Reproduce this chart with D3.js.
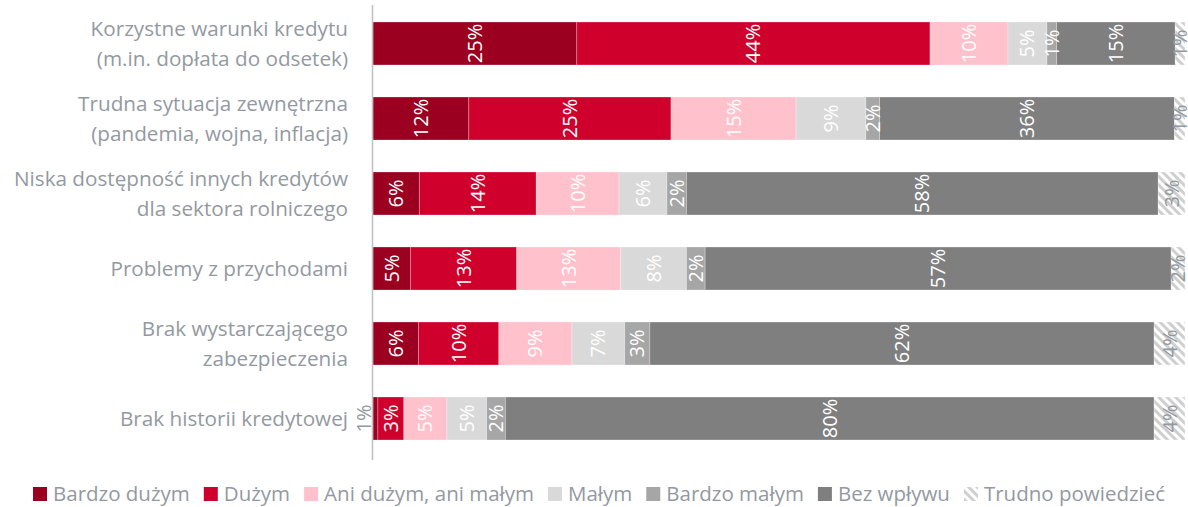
<!DOCTYPE html>
<html>
<head>
<meta charset="utf-8">
<script src="https://cdn.jsdelivr.net/npm/d3@7"></script>
<style>
  body { margin: 0; background: #fff; }
  svg { display: block; font-family: "Open Sans", sans-serif; }
</style>
</head>
<body>
<svg id="chart" width="1188" height="507"></svg>
<script>
const categories = [
  ['Korzystne warunki kredytu', '(m.in. dopłata do odsetek)'],
  ['Trudna sytuacja zewnętrzna', '(pandemia, wojna, inflacja)'],
  ['Niska dostępność innych kredytów', 'dla sektora rolniczego'],
  ['Problemy z przychodami'],
  ['Brak wystarczającego', 'zabezpieczenia'],
  ['Brak historii kredytowej'],
];
const seriesNames = ['Bardzo dużym', 'Dużym', 'Ani dużym, ani małym', 'Małym', 'Bardzo małym', 'Bez wpływu', 'Trudno powiedzieć'];
// one array per category, in series order (share in %)
const values = [
  [25.1, 43.5, 9.6, 4.8, 1.2, 14.6, 1.2],
  [11.8, 24.9, 15.4, 8.6, 1.7, 36.3, 1.3],
  [5.7, 14.4, 10.2, 5.9, 2.4, 58.1, 3.3],
  [4.6, 13.1, 12.8, 8.1, 2.3, 57.4, 1.7],
  [5.6, 9.9, 9.0, 6.5, 3.1, 62.1, 3.8],
  [0.6, 3.2, 5.3, 4.9, 2.3, 79.9, 3.8],
];
const colors = ['#9b0020', '#d0002c', '#ffc1cb', '#d9d9d9', '#a6a6a6', '#7f7f7f', 'url(#hatch)'];
const textGrey = '#9399a1';

const svg = d3.select('#chart');

const defs = svg.append('defs');
const pat = defs.append('pattern')
  .attr('id', 'hatch')
  .attr('patternUnits', 'userSpaceOnUse')
  .attr('width', 6)
  .attr('height', 6)
  .attr('patternTransform', 'rotate(45)');
pat.append('rect').attr('width', 6).attr('height', 6).attr('fill', '#fff');
pat.append('rect').attr('width', 6).attr('height', 3).attr('fill', '#cfcfcf');

const x = d3.scaleLinear().domain([0, 100]).range([373, 1185]);
const y = d3.scaleBand()
  .domain(d3.range(categories.length))
  .range([6, 456])
  .paddingInner(0.427)
  .paddingOuter(0.2135);

const rows = values.map((vals, i) => {
  let acc = 0;
  return vals.map((v, j) => {
    const seg = { row: i, series: j, v, x0: acc, x1: acc + v };
    acc += v;
    return seg;
  });
});

const bars = svg.append('g');
rows.forEach(row => {
  bars.selectAll(null)
    .data(row)
    .enter()
    .append('rect')
    .attr('x', d => x(d.x0))
    .attr('y', d => y(d.row))
    .attr('width', d => x(d.x1) - x(d.x0))
    .attr('height', y.bandwidth())
    .attr('fill', d => colors[d.series])
    .attr('stroke', '#fff')
    .attr('stroke-opacity', 0.35)
    .attr('stroke-width', 0.75);
});

// value labels, rotated
const labels = svg.append('g').attr('font-size', 20);
rows.forEach(row => {
  labels.selectAll(null)
    .data(row)
    .enter()
    .append('text')
    .attr('transform', d => {
      let cx = (x(d.x0) + x(d.x1)) / 2;
      if (d.v < 1) cx = x(0) - 9;
      return `translate(${cx},${y(d.row) + y.bandwidth() / 2}) rotate(-90)`;
    })
    .attr('text-anchor', 'middle')
    .attr('dy', '0.35em')
    .attr('fill', d => (d.series === 6 || d.v < 1 ? textGrey : '#fff'))
    .text(d => `${Math.max(1, Math.round(d.v))}%`);
});

// axis line
svg.append('line')
  .attr('x1', 372.5).attr('x2', 372.5)
  .attr('y1', 5).attr('y2', 460)
  .attr('stroke', '#bfbfbf')
  .attr('stroke-width', 1.5);

// category labels
const cat = svg.append('g')
  .attr('font-size', 20.7)
  .attr('fill', textGrey)
  .attr('text-anchor', 'end');
categories.forEach((lines, i) => {
  const cy = y(i) + y.bandwidth() / 2;
  const t = cat.append('text')
    .attr('x', 348)
    .attr('y', cy - (lines.length - 1) * 15);
  lines.forEach((line, k) => {
    t.append('tspan')
      .attr('x', 348)
      .attr('dy', k === 0 ? '0.35em' : 30)
      .text(line);
  });
});

// legend
const legend = svg.append('g')
  .attr('font-size', 20.5)
  .attr('fill', textGrey);
let lx = 33;
seriesNames.forEach((name, j) => {
  legend.append('rect')
    .attr('x', lx)
    .attr('y', 487)
    .attr('width', 14)
    .attr('height', 14)
    .attr('fill', colors[j]);
  const t = legend.append('text')
    .attr('x', lx + 20)
    .attr('y', 494)
    .attr('dy', '0.35em')
    .text(name);
  lx += 20 + t.node().getComputedTextLength() + 14;
});
</script>
</body>
</html>
